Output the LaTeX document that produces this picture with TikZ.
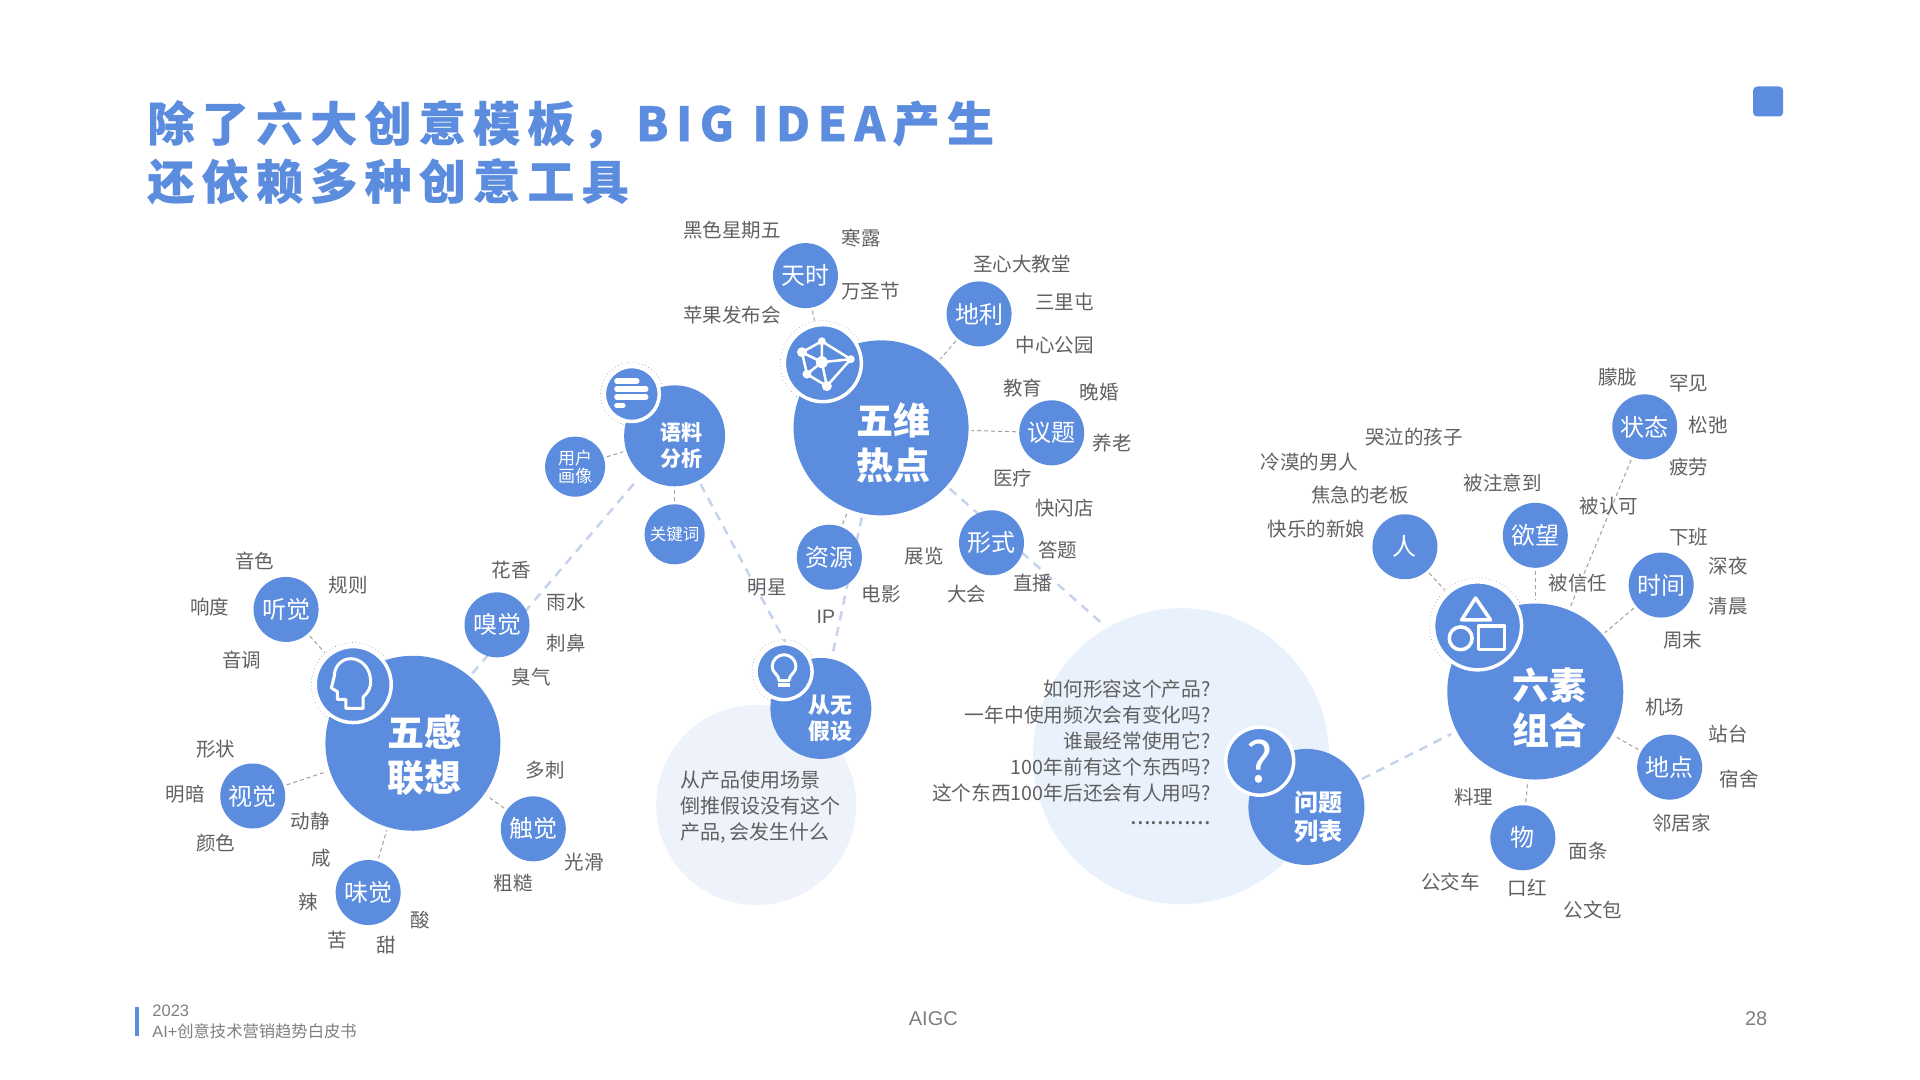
\documentclass[tikz,border=0pt]{standalone}
\usepackage{fontspec}
\setmainfont{Noto Sans CJK SC}
\newfontfamily\titlefont[LetterSpace=15.5, BoldFeatures={FakeBold=0.6}]{Noto Sans CJK SC}
\newfontfamily\arialfont{Liberation Sans}
\usetikzlibrary{positioning, backgrounds}
\definecolor{mainblue}{RGB}{91,140,222}
\definecolor{paleblue}{RGB}{232,241,252}
\definecolor{palegrey}{RGB}{238,242,250}
\definecolor{linklight}{RGB}{197,211,236}
\definecolor{linkgrey}{RGB}{160,160,160}
\definecolor{termgrey}{RGB}{96,96,96}
\definecolor{footgrey}{RGB}{127,127,127}

\begin{document}
\begin{tikzpicture}[x = 0.995pt, y = -0.995pt,
  disc/.style = {circle, fill = mainblue, text = white, inner sep = 0pt, align = center},
  bigdisc/.style = {disc, minimum size = 175pt},
  middisc/.style = {disc, minimum size = 101pt},
  smalldisc/.style = {disc, minimum size = 65pt, font = \fontsize{24}{28}\selectfont},
  tinydisc/.style = {disc, minimum size = 60pt},
  icondisc/.style = {disc, draw = white, line width = 3.5pt},
  halo/.style = {circle, draw = black!70, line width = 0.4pt, dash pattern = on 0.5pt off 3pt, inner sep = 0pt},
  hubtext/.style = {text = white, inner sep = 0pt, align = center, font = \bfseries\fontsize{37}{45}\selectfont},
  midtext/.style = {text = white, inner sep = 0pt, align = center, font = \bfseries\fontsize{21}{26}\selectfont},
  term/.style = {text = termgrey, inner sep = 0pt, font = \fontsize{19.5}{23}\selectfont},
  pale/.style = {circle, inner sep = 0pt},
  glyph/.style = {draw = white, line width = 3pt, line join = round},
  thinlink/.style = {draw = linkgrey, line width = 1pt, dash pattern = on 4pt off 3pt, shorten < = 3pt, shorten > = 3pt},
  widelink/.style = {draw = linklight, line width = 2.5pt, dash pattern = on 9pt off 7pt, shorten < = 4pt, shorten > = 6pt}]
  \useasboundingbox (0,0) rectangle (1929.65,1085.43);

  % title
  \node [anchor = west, inner sep = 0pt, align = left, text = mainblue, font = \titlefont\bfseries\fontsize{47}{58}\selectfont] at (148,153) (title) {除了六大创意模板，BIG IDEA产生\\还依赖多种创意工具};
  \node [fill = mainblue, rounded corners = 4pt, minimum size = 30pt, inner sep = 0pt] at (1777,102) (corner) {};

  % five senses
  \node [bigdisc] at (415,747) (senses) {};
  \node [hubtext] at (427,759) (sensestext) {五感\\联想};
  \node [icondisc, minimum size = 76pt] at (355,688) (headicon) {};
  \node [smalldisc] at (287.5,612.5) (hearing) {听觉};
  \node [smalldisc] at (499.5,628) (smell) {嗅觉};
  \node [smalldisc] at (254,800) (sight) {视觉};
  \node [smalldisc] at (536,833) (touch) {触觉};
  \node [smalldisc] at (370,897) (taste) {味觉};
  \node [term] at (256,564) (hearing1) {音色};
  \node [term] at (350,588) (hearing2) {规则};
  \node [term] at (211,610) (hearing3) {响度};
  \node [term] at (243,663) (hearing4) {音调};
  \node [term] at (514,573) (smell1) {花香};
  \node [term] at (569,605) (smell2) {雨水};
  \node [term] at (569,646) (smell3) {刺鼻};
  \node [term] at (534,680) (smell4) {臭气};
  \node [term] at (217,753) (sight1) {形状};
  \node [term] at (186,798) (sight2) {明暗};
  \node [term] at (312,825) (sight3) {动静};
  \node [term] at (217,847) (sight4) {颜色};
  \node [term] at (548,774) (touch1) {多刺};
  \node [term] at (587,866) (touch2) {光滑};
  \node [term] at (516,888) (touch3) {粗糙};
  \node [term] at (323,862) (taste1) {咸};
  \node [term] at (310,907) (taste2) {辣};
  \node [term] at (422,925) (taste3) {酸};
  \node [term] at (339,945) (taste4) {苦};
  \node [term] at (388,950) (taste5) {甜};

  % five hot spots
  \node [bigdisc] at (885.5,430) (hotspot) {};
  \node [hubtext] at (898,445) (hotspottext) {五维\\热点};
  \node [icondisc, minimum size = 77pt] at (827,365) (neticon) {};
  \node [smalldisc] at (809.5,277) (season) {天时};
  \node [smalldisc] at (984,315.5) (place) {地利};
  \node [smalldisc] at (1057,435) (topic) {议题};
  \node [smalldisc] at (996.5,545.5) (format) {形式};
  \node [smalldisc] at (833.5,560) (resource) {资源};
  \node [term] at (735.5,231) (season1) {黑色星期五};
  \node [term] at (865.5,239) (season2) {寒露};
  \node [term] at (875,292.5) (season3) {万圣节};
  \node [term] at (735.5,317) (season4) {苹果发布会};
  \node [term] at (1027,265) (place1) {圣心大教堂};
  \node [term] at (1070,303) (place2) {三里屯};
  \node [term] at (1060,347) (place3) {中心公园};
  \node [term] at (1028,390) (topic1) {教育};
  \node [term] at (1105,394) (topic2) {晚婚};
  \node [term] at (1118,445) (topic3) {养老};
  \node [term] at (1018,480) (topic4) {医疗};
  \node [term] at (1070,511) (format1) {快闪店};
  \node [term] at (1063,553) (format2) {答题};
  \node [term] at (1038,586) (format3) {直播};
  \node [term] at (971.5,597) (format4) {大会};
  \node [term] at (929,559) (format5) {展览};
  \node [term] at (771,591) (resource1) {明星};
  \node [term] at (885.5,597) (resource2) {电影};
  \node [term, font = \arialfont\fontsize{19.5}{23}\selectfont] at (830,620) (resource3) {IP};

  % corpus analysis
  \node [middisc] at (678,438) (corpus) {};
  \node [midtext] at (685,448) (corpustext) {语料\\分析};
  \node [icondisc, minimum size = 55pt] at (635,396) (barsicon) {};
  \node [tinydisc, font = \fontsize{17}{18}\selectfont] at (578,469) (persona) {用户\\画像};
  \node [tinydisc, font = \fontsize{16.5}{20}\selectfont] at (678,537) (keyword) {关键词};

  % hypothesis
  \node [pale, fill = palegrey, minimum size = 200pt] at (760,809) (hypopale) {};
  \node [middisc] at (825,712) (hypo) {};
  \node [midtext, font = \bfseries\fontsize{22}{26}\selectfont] at (835,722) (hypotext) {从无\\假设};
  \node [icondisc, minimum size = 56pt] at (788,675) (bulbicon) {};
  \node [anchor = west, inner sep = 0pt, align = left, text = termgrey, font = \fontsize{20}{26}\selectfont] at (684,811) (hypolines) {从产品使用场景\\倒推假设没有这个\\产品,\,会发生什么};

  % question list
  \node [pale, fill = paleblue, minimum size = 296pt] at (1187,760) (issuepale) {};
  \node [disc, minimum size = 116pt] at (1313,811) (issue) {};
  \node [midtext, font = \bfseries\fontsize{24}{29}\selectfont] at (1325,821) (issuetext) {问题\\列表};
  \node [icondisc, minimum size = 68pt, font = \fontsize{56}{60}\selectfont] at (1266,765) (askicon) {?};
  \node [anchor = east, inner sep = 0pt, align = right, text = termgrey, font = \fontsize{19.7}{26}\selectfont] at (1217,745) (issuelines) {如何形容这个产品?\\一年中使用频次会有变化吗?\\谁最经常使用它?\\100年前有这个东西吗?\\这个东西100年后还会有人用吗?};
  \node [anchor = east, inner sep = 0pt, text = termgrey, font = \fontsize{24}{26}\selectfont] at (1217,827) (issuedots) {............};

  % six elements
  \node [bigdisc, minimum size = 176pt] at (1543,695) (elements) {};
  \node [hubtext] at (1557,711) (elementstext) {六素\\组合};
  \node [icondisc, minimum size = 88pt] at (1485,629) (shapeicon) {};
  \node [smalldisc] at (1412,549.5) (person) {人};
  \node [smalldisc] at (1543,538) (desire) {欲望};
  \node [smalldisc] at (1653,429) (mood) {状态};
  \node [smalldisc] at (1669.5,588) (timing) {时间};
  \node [smalldisc] at (1678,771) (spot) {地点};
  \node [smalldisc] at (1530.5,842) (thing) {物};
  \node [term] at (1626,379) (mood1) {朦胧};
  \node [term] at (1697,385.5) (mood2) {罕见};
  \node [term] at (1717,427.5) (mood3) {松弛};
  \node [term] at (1697,469.5) (mood4) {疲劳};
  \node [term] at (1421,439) (person1) {哭泣的孩子};
  \node [term] at (1316,464) (person2) {冷漠的男人};
  \node [term] at (1367,498) (person3) {焦急的老板};
  \node [term] at (1323,532) (person4) {快乐的新娘};
  \node [term] at (1510.5,485) (desire1) {被注意到};
  \node [term] at (1617,509) (desire2) {被认可};
  \node [term] at (1586,586.5) (desire3) {被信任};
  \node [term] at (1697,540) (timing1) {下班};
  \node [term] at (1737,569) (timing2) {深夜};
  \node [term] at (1737,609) (timing3) {清晨};
  \node [term] at (1691,643) (timing4) {周末};
  \node [term] at (1673,711) (spot1) {机场};
  \node [term] at (1737,738) (spot2) {站台};
  \node [term] at (1748,783) (spot3) {宿舍};
  \node [term] at (1690,827) (spot4) {邻居家};
  \node [term] at (1481,801.5) (thing1) {料理};
  \node [term] at (1596,855) (thing2) {面条};
  \node [term] at (1458,886.5) (thing3) {公交车};
  \node [term] at (1535,892) (thing4) {口红};
  \node [term] at (1601,914.5) (thing5) {公文包};

  % icons
  \begin{scope}[shift = {(headicon.center)}]
    \draw [glyph] (10,24) -- (10,12.5) .. controls (15,8) and (18,3) .. (17.5,-4) .. controls (17,-18) and (7,-26) .. (-2.5,-26) .. controls (-12,-26) and (-19,-18) .. (-19,-8.5) -- (-22,3.5) -- (-16,7) -- (-16,15) -- (-7.5,15) -- (-7.5,24) -- cycle;
  \end{scope}
  \begin{scope}[shift = {(neticon.center)}]
    \draw [glyph, line width = 2.5pt] (-1,-22) -- (28,-4) -- (4,23) -- (-16,11) -- (-21,-11) -- cycle;
    \draw [glyph, line width = 2.5pt] (-1,-22) -- (-1,-1) -- (28,-4) (4,23) -- (-1,-1) -- (-16,11) (-21,-11) -- (-1,-1);
    \fill [white] (-1,-22) circle (4) (28,-4) circle (4) (4,23) circle (5) (-16,11) circle (4.5) (-21,-11) circle (5) (-1,-1) circle (6);
  \end{scope}
  \begin{scope}[shift = {(barsicon.center)}]
    \draw [white, line width = 5.5pt, line cap = round] (-15,-13) -- (5,-13) (-15,-5) -- (14,-5) (-15,3) -- (14,3) (-15,11.5) -- (-9,11.5);
  \end{scope}
  \begin{scope}[shift = {(bulbicon.center)}]
    \draw [glyph] (-5,9) .. controls (-5,3) and (-12,1) .. (-12,-5) .. controls (-12,-12) and (-6,-17) .. (0,-17) .. controls (6,-17) and (12,-12) .. (12,-5) .. controls (12,1) and (5,3) .. (5,9) -- cycle;
    \draw [white, line width = 4pt] (-6,13.5) -- (6,13.5);
  \end{scope}
  \begin{scope}[shift = {(shapeicon.center)}]
    \draw [glyph, line width = 3.5pt] (-2,-28) -- (13,-6) -- (-16,-6) -- cycle;
    \draw [glyph, line width = 3.5pt] (-17,12.5) circle (11.5);
    \draw [glyph, line width = 3.5pt] (1,0) rectangle (27,24);
  \end{scope}

  % edges
  \begin{scope}[on background layer]
    \node [halo, minimum size = 84pt] at (headicon) (headhalo) {};
    \node [halo, minimum size = 85pt] at (neticon) (nethalo) {};
    \node [halo, minimum size = 63pt] at (barsicon) (barshalo) {};
    \node [halo, minimum size = 64pt] at (bulbicon) (bulbhalo) {};
    \node [halo, minimum size = 96pt] at (shapeicon) (shapehalo) {};
    \draw [widelink] (senses) -- (corpus);
    \draw [widelink] (corpus) -- (hypo);
    \draw [widelink] (hotspot) -- (hypo);
    \draw [widelink] (hotspot) -- (issuepale.120);
    \draw [widelink] (issue) -- (elements);
    \draw [thinlink] (hearing) -- (headicon);
    \draw [thinlink] (sight) -- (senses);
    \draw [thinlink] (taste) -- (senses);
    \draw [thinlink] (touch) -- (senses);
    \draw [thinlink] (season) -- (neticon);
    \draw [thinlink] (place) -- (hotspot);
    \draw [thinlink] (topic) -- (hotspot);
    \draw [thinlink] (resource) -- (hotspot);
    \draw [thinlink] (persona) -- (corpus);
    \draw [thinlink] (keyword) -- (corpus);
    \draw [thinlink] (person) -- (shapeicon);
    \draw [thinlink] (desire) -- (elements);
    \draw [thinlink] (mood) -- (elements);
    \draw [thinlink] (timing) -- (elements);
    \draw [thinlink] (spot) -- (elements);
    \draw [thinlink] (thing) -- (elements);
  \end{scope}

  % footer
  \node [fill = mainblue, minimum width = 4pt, minimum height = 29pt, inner sep = 0pt] at (138,1026.5) (footbar) {};
  \node [anchor = west, inner sep = 0pt, text = footgrey, font = \arialfont\fontsize{16.5}{20}\selectfont] at (153,1016) (footyear) {2023};
  \node [anchor = west, inner sep = 0pt, text = footgrey, font = \fontsize{16.3}{20}\selectfont] at (153,1036) (footname) {{\arialfont AI+}创意技术营销趋势白皮书};
  \node [text = footgrey, inner sep = 0pt, font = \arialfont\fontsize{20}{24}\selectfont] at (938,1024) (footmid) {AIGC};
  \node [text = footgrey, inner sep = 0pt, font = \arialfont\fontsize{20}{24}\selectfont] at (1765,1024) (footpage) {28};
\end{tikzpicture}
\end{document}
